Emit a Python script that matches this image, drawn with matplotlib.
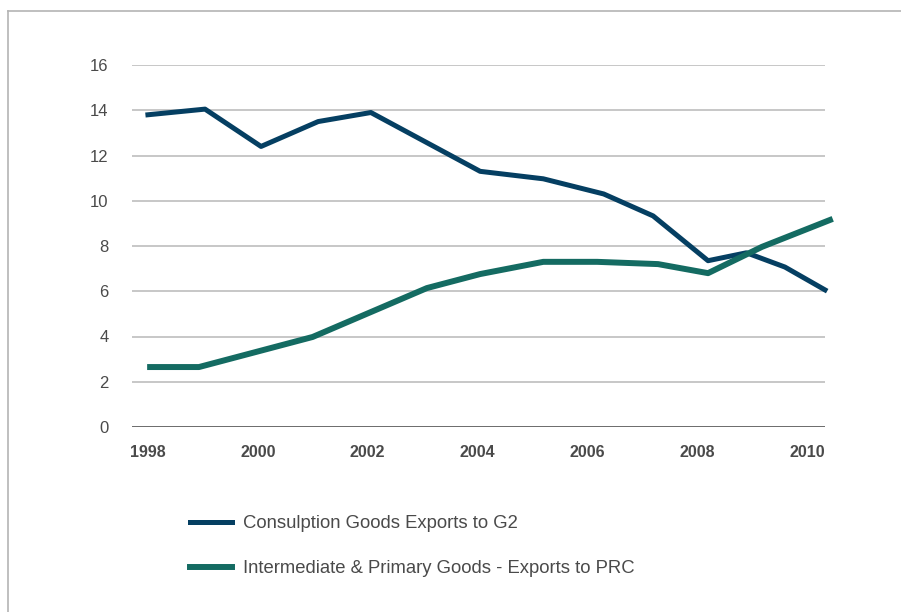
import matplotlib.pyplot as plt
from matplotlib.lines import Line2D

plt.rcParams['font.family'] = ['Liberation Sans', 'DejaVu Sans']

# Consumption goods exports to G2
g2_years = [1998.0, 1999.04, 2000.06, 2001.1, 2002.06, 2004.05, 2005.2,
            2006.3, 2007.2, 2008.2, 2008.9, 2009.6, 2010.33]
g2_values = [13.8, 14.05, 12.4, 13.5, 13.9, 11.3, 10.97,
             10.3, 9.33, 7.35, 7.7, 7.07, 6.06]

# Intermediate & primary goods exports to PRC
prc_years = [1998.04, 1998.93, 2001.0, 2003.08, 2004.05, 2005.2,
             2006.18, 2007.29, 2008.2, 2009.18, 2010.42]
prc_values = [2.65, 2.65, 3.98, 6.14, 6.76, 7.3,
              7.3, 7.2, 6.8, 7.96, 9.15]

year_ticks = [1998, 2000, 2002, 2004, 2006, 2008, 2010]
value_ticks = [0, 2, 4, 6, 8, 10, 12, 14, 16]

g2_label = 'Consulption Goods Exports to G2'
prc_label = 'Intermediate & Primary Goods - Exports to PRC'

fig = plt.figure(figsize=(9.01, 6.12), dpi=100)
ax = fig.add_axes([132 / 901, 1 - 427 / 612, 693 / 901, 362 / 612])

# outer frame (left and top edges only are visible)
fig.add_artist(Line2D([8 / 901, 8 / 901], [-0.1, 1 - 11 / 612],
                      transform=fig.transFigure, color='#b4b4b4', lw=1.2))
fig.add_artist(Line2D([8 / 901, 1.1], [1 - 11 / 612, 1 - 11 / 612],
                      transform=fig.transFigure, color='#b4b4b4', lw=1.2))

for v in value_ticks[1:]:
    ax.axhline(v, color='#b8b8b8', lw=1.1, zorder=1)
ax.axhline(0, color='#404040', lw=1.8, zorder=2)

ax.plot(g2_years, g2_values, color='#053f62', lw=3.6, label=g2_label,
        zorder=3, clip_on=False)
ax.plot(prc_years, prc_values, color='#146b62', lw=4.3, label=prc_label,
        zorder=3, clip_on=False)

ax.set_xlim(1997.71, 2010.33)
ax.set_ylim(0, 16)
ax.set_xticks(year_ticks)
ax.set_xticklabels([str(y) for y in year_ticks], fontsize=11.5,
                   fontweight='bold', color='#4a4a4a')
ax.set_yticks(value_ticks)
ax.set_yticklabels([str(v) for v in value_ticks], fontsize=12, color='#4a4a4a')
ax.tick_params(axis='x', length=0, pad=13)
ax.tick_params(axis='y', length=0, pad=17)
for s in ax.spines.values():
    s.set_visible(False)

fig.legend(loc='upper left', bbox_to_anchor=(190 / 901, 1 - 515 / 612),
           frameon=False, fontsize=13.3, labelcolor='#4a4a4a',
           handlelength=2.27, handletextpad=0.6, labelspacing=1.54,
           borderpad=0, borderaxespad=0)

fig.savefig('out.png', dpi=100)
